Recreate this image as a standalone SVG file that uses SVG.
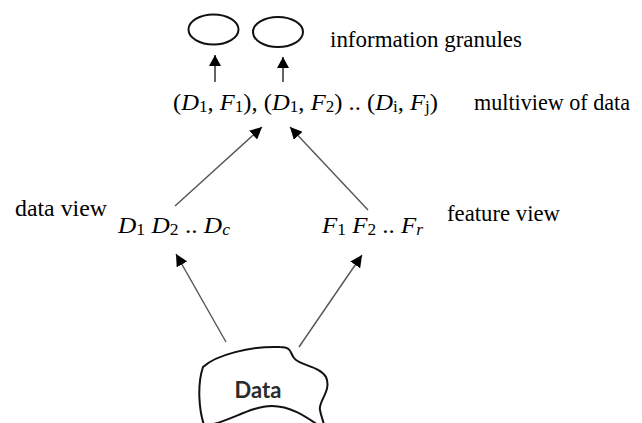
<svg xmlns="http://www.w3.org/2000/svg" width="642" height="423" viewBox="0 0 642 423">
<style>
  .t { font-family: "Liberation Serif", "Times New Roman", "DejaVu Serif", serif; font-size: 23px; fill: #000; }
  .i { font-style: italic; }
  .sub { font-size: 16px; font-style: normal; }
  .subi { font-size: 16px; font-style: italic; }
  .g { fill: none; stroke: #111; stroke-width: 2; }
  .ln { stroke: #555; stroke-width: 1.4; fill: none; }
  .lt { stroke: #222; stroke-width: 1.4; fill: none; }
  .blob { fill: #fff; stroke: #111; stroke-width: 2; }
  .dt { font-family: Lato, "Open Sans", "Liberation Sans", sans-serif; font-weight: bold; font-size: 22px; fill: #2b2b2b; }
</style>
<defs>
  <marker id="ah" markerUnits="userSpaceOnUse" markerWidth="13" markerHeight="12" refX="12" refY="6" orient="auto">
    <path d="M0,0 L12,6 L0,12 Z" fill="#000"/>
  </marker>
  <marker id="ahs" markerUnits="userSpaceOnUse" markerWidth="12" markerHeight="12" refX="11" refY="6" orient="auto">
    <path d="M0,0 L11,6 L0,12 Z" fill="#000"/>
  </marker>
</defs>
<rect width="642" height="423" fill="#fff"/>

<g id="connectors">
  <line class="lt" x1="215" y1="82" x2="215" y2="55" marker-end="url(#ahs)"/>
  <line class="lt" x1="283" y1="82" x2="283" y2="57" marker-end="url(#ahs)"/>
  <line class="ln" x1="175" y1="206" x2="262" y2="127" marker-end="url(#ah)"/>
  <line class="ln" x1="368" y1="210" x2="290" y2="127" marker-end="url(#ah)"/>
  <line class="ln" x1="226" y1="342" x2="176" y2="254" marker-end="url(#ah)"/>
  <line class="ln" x1="299" y1="347" x2="362" y2="255" marker-end="url(#ah)"/>
</g>

<g id="granule1">
  <ellipse class="g" cx="213.5" cy="29.5" rx="25" ry="15"/>
</g>
<g id="granule2">
  <ellipse class="g" cx="278" cy="32" rx="25" ry="15"/>
</g>
<g id="granules-label">
  <text class="t" x="330" y="47" textLength="192" lengthAdjust="spacingAndGlyphs">information granules</text>
</g>

<g id="multiview">
  <text class="t" x="173" y="110" textLength="265" lengthAdjust="spacingAndGlyphs">(<tspan class="i">D</tspan><tspan class="sub" dy="2">1</tspan><tspan dy="-2">, </tspan><tspan class="i">F</tspan><tspan class="sub" dy="2">1</tspan><tspan dy="-2">), (</tspan><tspan class="i">D</tspan><tspan class="sub" dy="2">1</tspan><tspan dy="-2">, </tspan><tspan class="i">F</tspan><tspan class="sub" dy="2">2</tspan><tspan dy="-2">) .. (</tspan><tspan class="i">D</tspan><tspan class="sub" dy="2">i</tspan><tspan dy="-2">, </tspan><tspan class="i">F</tspan><tspan class="sub" dy="2">j</tspan><tspan dy="-2">)</tspan></text>
  <text class="t" x="474" y="110" textLength="156" lengthAdjust="spacingAndGlyphs">multiview of data</text>
</g>

<g id="data-view">
  <text class="t" x="15" y="216" textLength="92" lengthAdjust="spacingAndGlyphs">data view</text>
  <text class="t" x="118" y="233" textLength="112" lengthAdjust="spacingAndGlyphs"><tspan class="i">D</tspan><tspan class="sub" dy="2">1</tspan><tspan dy="-2"> </tspan><tspan class="i">D</tspan><tspan class="sub" dy="2">2</tspan><tspan dy="-2"> .. </tspan><tspan class="i">D</tspan><tspan class="subi" dy="2">c</tspan></text>
</g>

<g id="feature-view">
  <text class="t" x="322" y="233" textLength="101" lengthAdjust="spacingAndGlyphs"><tspan class="i">F</tspan><tspan class="sub" dy="2">1</tspan><tspan dy="-2"> </tspan><tspan class="i">F</tspan><tspan class="sub" dy="2">2</tspan><tspan dy="-2"> .. </tspan><tspan class="i">F</tspan><tspan class="subi" dy="2">r</tspan></text>
  <text class="t" x="447" y="221" textLength="113" lengthAdjust="spacingAndGlyphs">feature view</text>
</g>

<g id="data">
  <path class="blob" d="M203,367 C216,355 250,346 280,347 C292,347 290,353 294,358 C300,366 320,366 326,377 C332,391 318,401 320,410 C321,416 323,420 324,425 L318,425 C305,416 290,406 272,406 C252,406 232,420 210,425 L204,425 C199,410 197,385 203,367 Z"/>
  <text class="dt" x="258" y="398" text-anchor="middle">Data</text>
</g>
</svg>
